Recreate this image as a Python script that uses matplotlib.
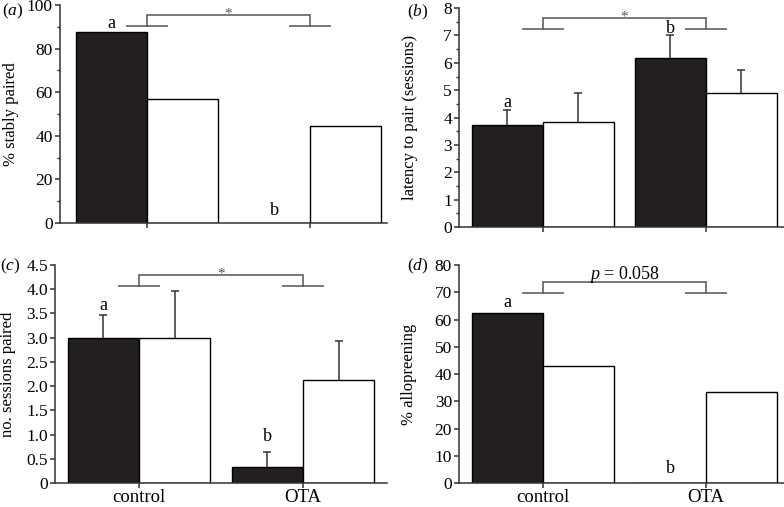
import matplotlib
matplotlib.use("Agg")
import matplotlib.pyplot as plt
from matplotlib.ticker import MultipleLocator, FuncFormatter

plt.rcParams['font.family'] = ['Liberation Serif', 'DejaVu Serif']
plt.rcParams['mathtext.fontset'] = 'custom'
plt.rcParams['mathtext.rm'] = 'Liberation Serif'
plt.rcParams['mathtext.it'] = 'Liberation Serif:italic'

groups = ["control", "OTA"]

# panel a: % stably paired (black, white)
a_black = [87.5, 0.0]
a_white = [57.1, 44.4]
# panel b: latency to pair (sessions)
b_black = [3.73, 6.18]
b_white = [3.84, 4.90]
b_black_err = [0.56, 0.84]
b_white_err = [1.06, 0.83]
# panel c: no. sessions paired
c_black = [3.0, 0.34]
c_white = [3.0, 2.13]
c_black_err = [0.46, 0.31]
c_white_err = [0.97, 0.81]
# panel d: % allopreening
d_black = [62.5, 0.0]
d_white = [42.9, 33.3]

BLACK = "#231f20"
LINE = "#333333"
BR = "#555555"
W = 0.435

fig = plt.figure(figsize=(7.84, 5.07), dpi=100)

def make_ax(rect, ymax, major, minor, xlim, ylabel, label_x):
    ax = fig.add_axes(rect)
    ax.set_xlim(*xlim)
    ax.set_ylim(0, ymax)
    for s in ['top', 'right']:
        ax.spines[s].set_visible(False)
    for s in ['left', 'bottom']:
        ax.spines[s].set_color(LINE)
        ax.spines[s].set_linewidth(1.1)
    ax.yaxis.set_major_locator(MultipleLocator(major))
    if minor:
        ax.yaxis.set_minor_locator(MultipleLocator(minor))
    ax.set_xticks([0, 1])
    ax.tick_params(axis='both', which='major', direction='out', length=3.6,
                   width=1.1, color=LINE, labelsize=12.5, pad=1.5)
    ax.tick_params(axis='x', which='major', pad=0.5)
    ax.tick_params(axis='y', which='minor', direction='out', length=2.2,
                   width=1.0, color=LINE)
    ax.set_ylabel(ylabel, fontsize=12)
    ax.yaxis.set_label_coords(label_x, 0.5)
    return ax

def errs(ax, xs, ys, es):
    tops = [y + e for y, e in zip(ys, es)]
    ax.vlines(xs, ys, tops, color=LINE, lw=1.1, zorder=3)
    ax.plot(xs, tops, ls='none', marker='_', ms=6, mew=1.1, color=LINE, zorder=3)

def bars(ax, black, white, black_err=None, white_err=None):
    xb = [i - W / 2 for i in range(len(groups))]
    xw = [i + W / 2 for i in range(len(groups))]
    ax.bar(xb, black, W, color=BLACK, edgecolor='black', linewidth=1.0, zorder=2)
    ax.bar(xw, white, W, color='white', edgecolor='black', linewidth=1.0, zorder=2)
    if black_err is not None:
        errs(ax, xb, black, black_err)
        errs(ax, xw, white, white_err)

def bracket(ax, ylow, ytop, text, ytext, italic=False):
    hw = 0.13
    for c in (0, 1):
        ax.plot([c - hw, c + hw], [ylow, ylow], color=BR, lw=1.1, solid_capstyle='butt')
        ax.plot([c, c], [ylow, ytop], color=BR, lw=1.1)
    ax.plot([0, 1], [ytop, ytop], color=BR, lw=1.1, solid_capstyle='butt')
    ax.text(0.5, ytext, text, ha='center', va='baseline',
            fontsize=13 if italic else 11, color='black' if italic else '#555555')

def letter(ax, x, y, s):
    ax.text(x, y, s, ha='center', va='baseline', fontsize=13)

# (a)
ax_a = make_ax([0.0765, 0.560, 0.417, 0.430], 100, 20, 10, (-0.534, 1.472),
               "% stably paired", -0.125)
bars(ax_a, a_black, a_white)
ax_a.set_xticklabels([])
bracket(ax_a, 90.4, 95.4, "*", 94.5)
letter(ax_a, -W / 2, 89.6, "a")
letter(ax_a, 1 - W / 2, 3.7, "b")

# (b)
ax_b = make_ax([0.5855, 0.552, 0.4145, 0.432], 8, 1, 0.5, (-0.515, 1.48),
               "latency to pair (sessions)", -0.125)
bars(ax_b, b_black, b_white, b_black_err, b_white_err)
ax_b.set_xticklabels([])
bracket(ax_b, 7.23, 7.63, "*", 7.56)
letter(ax_b, -W / 2, 4.38, "a")
letter(ax_b, 1 - W / 2, 7.09, "b")

# (c)
ax_c = make_ax([0.070, 0.0473, 0.4235, 0.430], 4.5, 0.5, None, (-0.512, 1.512),
               "no. sessions paired", -0.118)
bars(ax_c, c_black, c_white, c_black_err, c_white_err)
ax_c.yaxis.set_major_formatter(FuncFormatter(lambda v, p: "0" if abs(v) < 1e-9 else f"{v:.1f}"))
ax_c.set_xticklabels(groups, fontsize=13.5)
bracket(ax_c, 4.07, 4.29, "*", 4.25)
letter(ax_c, -W / 2, 3.57, "a")
letter(ax_c, 1 - W / 2, 0.87, "b")

# (d)
ax_d = make_ax([0.5855, 0.0473, 0.4145, 0.430], 80, 10, None, (-0.515, 1.48),
               "% allopreening", -0.13)
bars(ax_d, d_black, d_white)
ax_d.set_xticklabels(groups, fontsize=13.5)
bracket(ax_d, 69.7, 73.75, r"$p$ = 0.058", 74.9, italic=True)
letter(ax_d, -W / 2, 64.5, "a")
letter(ax_d, 1 - W / 2, 3.8, "b")

# panel labels
for x, y, lab in [(0.003, 0.978, "a"), (0.519, 0.975, "b"), (0.0, 0.475, "c"), (0.519, 0.475, "d")]:
    fig.text(x, y, f"($\\mathit{{{lab}}}$)", fontsize=12.5, ha='left', va='center')

fig.savefig("out.png", dpi=100)
